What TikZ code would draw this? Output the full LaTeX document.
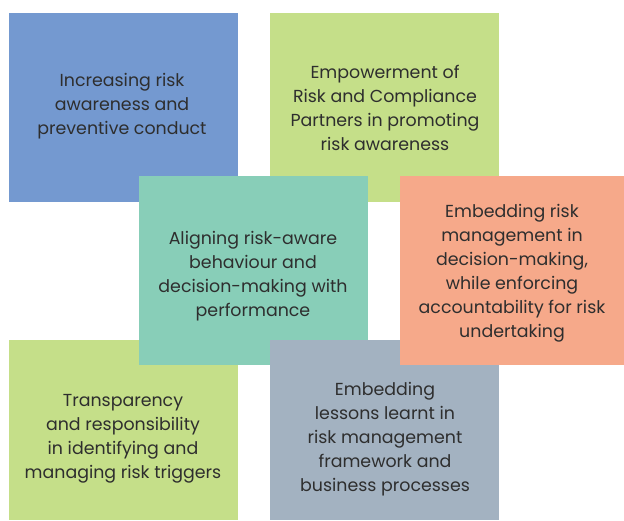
\documentclass[tikz,border=0pt]{standalone}
\usepackage{fontspec}
\setmainfont{Poppins}
\begin{document}
\begin{tikzpicture}[x=1pt,y=-1pt,
  caption/.style={text=txt,align=center,font=\fontsize{17.4}{24}\selectfont,inner sep=0pt}]
\definecolor{cblue}{HTML}{7499D0}
\definecolor{cgreen}{HTML}{C5DF89}
\definecolor{cteal}{HTML}{88CEB8}
\definecolor{cgray}{HTML}{A3B2C1}
\definecolor{csalmon}{HTML}{F6A98A}
\definecolor{txt}{HTML}{2E2E2E}
\useasboundingbox (0,0) rectangle (624,520);
% tiles, back to front
\fill[cblue]   (9,13)   rectangle (238,202);
\fill[cgreen]  (270,13) rectangle (499,202);
\fill[cgreen]  (9,340)  rectangle (238,520);
\fill[cteal]   (139,176) rectangle (368,365);
\fill[cgray]   (270,340) rectangle (499,520);
\fill[csalmon] (400,176) rectangle (624,365);
% captions
\node[caption] (t1) at (122,106) {Increasing risk\\awareness and\\preventive conduct};
\node[caption] (t2) at (385,108) {Empowerment of\\Risk and Compliance\\Partners in promoting\\risk awareness};
\node[caption] (t3) at (253,276) {Aligning risk-aware\\behaviour and\\decision-making with\\performance};
\node[caption] (t4) at (512,273) {Embedding risk\\management in\\decision-making,\\while enforcing\\accountability for risk\\undertaking};
\node[caption] (t5) at (123,439) {Transparency\\and responsibility\\in identifying and\\managing risk triggers};
\node[caption] (t6) at (385,439) {Embedding\\lessons learnt in\\risk management\\framework and\\business processes};
\end{tikzpicture}
\end{document}
